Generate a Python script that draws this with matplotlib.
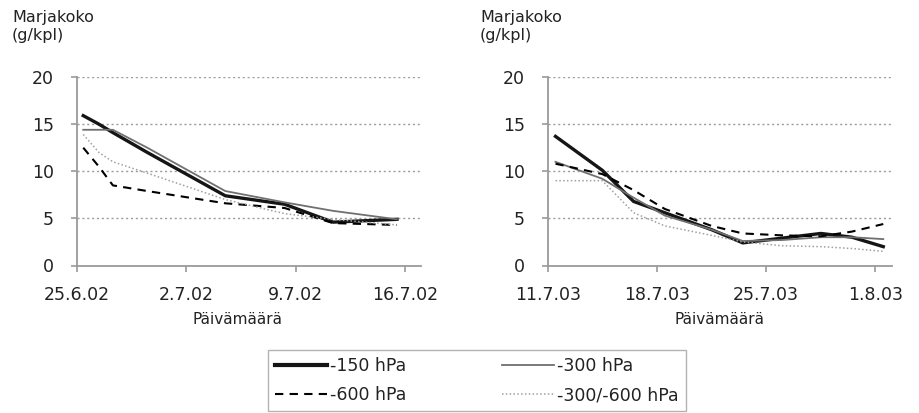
import matplotlib
matplotlib.use("Agg")
import matplotlib.pyplot as plt
from matplotlib.lines import Line2D

# ---------------- data ----------------
# x = days from first axis date (25.6.02 / 11.7.03)
left_days = [0.4, 1.4, 2.3, 4.5, 9.5, 13.3, 16.4, 20.5]
left_150 = [15.9, 15.0, 14.1, 12.0, 7.4, 6.5, 4.6, 4.9]
left_300 = [14.4, 14.4, 14.4, 12.5, 7.9, 6.7, 5.8, 4.9]
left_600 = [12.5, 10.5, 8.5, 7.9, 6.6, 6.1, 4.5, 4.3]
left_mix = [13.9, 12.0, 11.0, 9.8, 7.0, 5.5, 4.9, 4.3]
left_tick_days = [0, 7, 14, 21]
left_tick_labels = ["25.6.02", "2.7.02", "9.7.02", "16.7.02"]

right_days = [0.5, 3.5, 5.5, 7.5, 10.5, 12.5, 15.0, 17.5, 19.5, 21.5]
right_150 = [13.7, 10.1, 6.8, 5.6, 3.8, 2.4, 2.9, 3.4, 3.0, 2.0]
right_300 = [11.0, 9.2, 7.2, 5.3, 3.8, 2.6, 2.7, 3.0, 3.0, 2.8]
right_600 = [10.8, 9.7, 8.0, 6.0, 4.2, 3.4, 3.2, 3.1, 3.6, 4.4]
right_mix = [9.0, 9.0, 5.6, 4.2, 3.2, 2.5, 2.1, 2.0, 1.8, 1.5]
right_tick_days = [0, 7, 14, 21]
right_tick_labels = ["11.7.03", "18.7.03", "25.7.03", "1.8.03"]

series_labels = ["-150 hPa", "-300 hPa", "-600 hPa", "-300/-600 hPa"]
y_ticks = [0, 5, 10, 15, 20]
ylabel = "Marjakoko\n(g/kpl)"
xlabel = "Päivämäärä"

# ---------------- styles ----------------
styles = [
    dict(color="#151515", lw=2.4, ls="-"),
    dict(color="#707070", lw=1.3, ls="-"),
    dict(color="#000000", lw=1.5, ls=(0, (4, 3))),
    dict(color="#a0a0a0", lw=1.1, ls=(0, (1, 1.5))),
]
TXT = "#222222"
AXC = "#9a9a9a"

W, H = 919, 413
fig = plt.figure(figsize=(W / 100, H / 100), dpi=100)
fig.patch.set_facecolor("white")

def make_axes(x0px, days, series, tick_days, tick_labels):
    ax = fig.add_axes([x0px / W, 1 - 265.5 / H, 344 / W, 188.5 / H])
    for vals, st in zip(series, styles):
        ax.plot(days, vals, color=st["color"], lw=st["lw"], ls=st["ls"],
                solid_joinstyle="round")
    ax.set_xlim(0, 22.04)
    ax.set_ylim(0, 20)
    ax.set_xticks(tick_days)
    ax.set_xticklabels(tick_labels)
    ax.set_yticks(y_ticks)
    for s in ["top", "right"]:
        ax.spines[s].set_visible(False)
    for s in ["left", "bottom"]:
        ax.spines[s].set_color(AXC)
        ax.spines[s].set_linewidth(1.3)
    ax.tick_params(axis="both", colors=AXC, length=4.5, width=1.2,
                   direction="out", labelcolor=TXT, labelsize=12.5)
    ax.tick_params(axis="y", pad=12)
    ax.tick_params(axis="x", pad=10)
    for yv in y_ticks[1:]:
        ax.axhline(yv, color="#9c9c9c", lw=1.0, ls=(0, (1.5, 2)), zorder=0)
    ax.set_facecolor("white")
    return ax

axL = make_axes(77, left_days, [left_150, left_300, left_600, left_mix],
                left_tick_days, left_tick_labels)
axR = make_axes(547.7, right_days, [right_150, right_300, right_600, right_mix],
                right_tick_days, right_tick_labels)

# y labels
fig.text(12 / W, 1 - 10 / H, ylabel, ha="left", va="top", fontsize=11.5,
         color=TXT, linespacing=1.25)
fig.text(480 / W, 1 - 10 / H, ylabel, ha="left", va="top", fontsize=11.5,
         color=TXT, linespacing=1.25)
# x labels
fig.text(238 / W, 1 - 319 / H, xlabel, ha="center", va="center",
         fontsize=11, color=TXT)
fig.text(720 / W, 1 - 319 / H, xlabel, ha="center", va="center",
         fontsize=11, color=TXT)

# legend
handles = [Line2D([], [], color=st["color"], lw=st["lw"] + (0.6 if i == 0 else 0),
                  ls=st["ls"]) for i, st in enumerate(styles)]
order = [0, 2, 1, 3]
leg = fig.legend([handles[i] for i in order], [series_labels[i] for i in order],
                 ncol=2, mode="expand", loc="upper left",
                 bbox_to_anchor=(268 / W, 0.0, 418 / W, 1 - 350 / H),
                 fontsize=12.5, handlelength=3.0, handletextpad=0.2,
                 labelspacing=0.65, borderpad=0.4, borderaxespad=0.0,
                 columnspacing=2.0, frameon=True, fancybox=False)
leg.get_frame().set_edgecolor("#a0a0a0")
leg.get_frame().set_linewidth(1.0)
for t in leg.get_texts():
    t.set_color(TXT)

fig.savefig("out.png", dpi=100, facecolor="white")
